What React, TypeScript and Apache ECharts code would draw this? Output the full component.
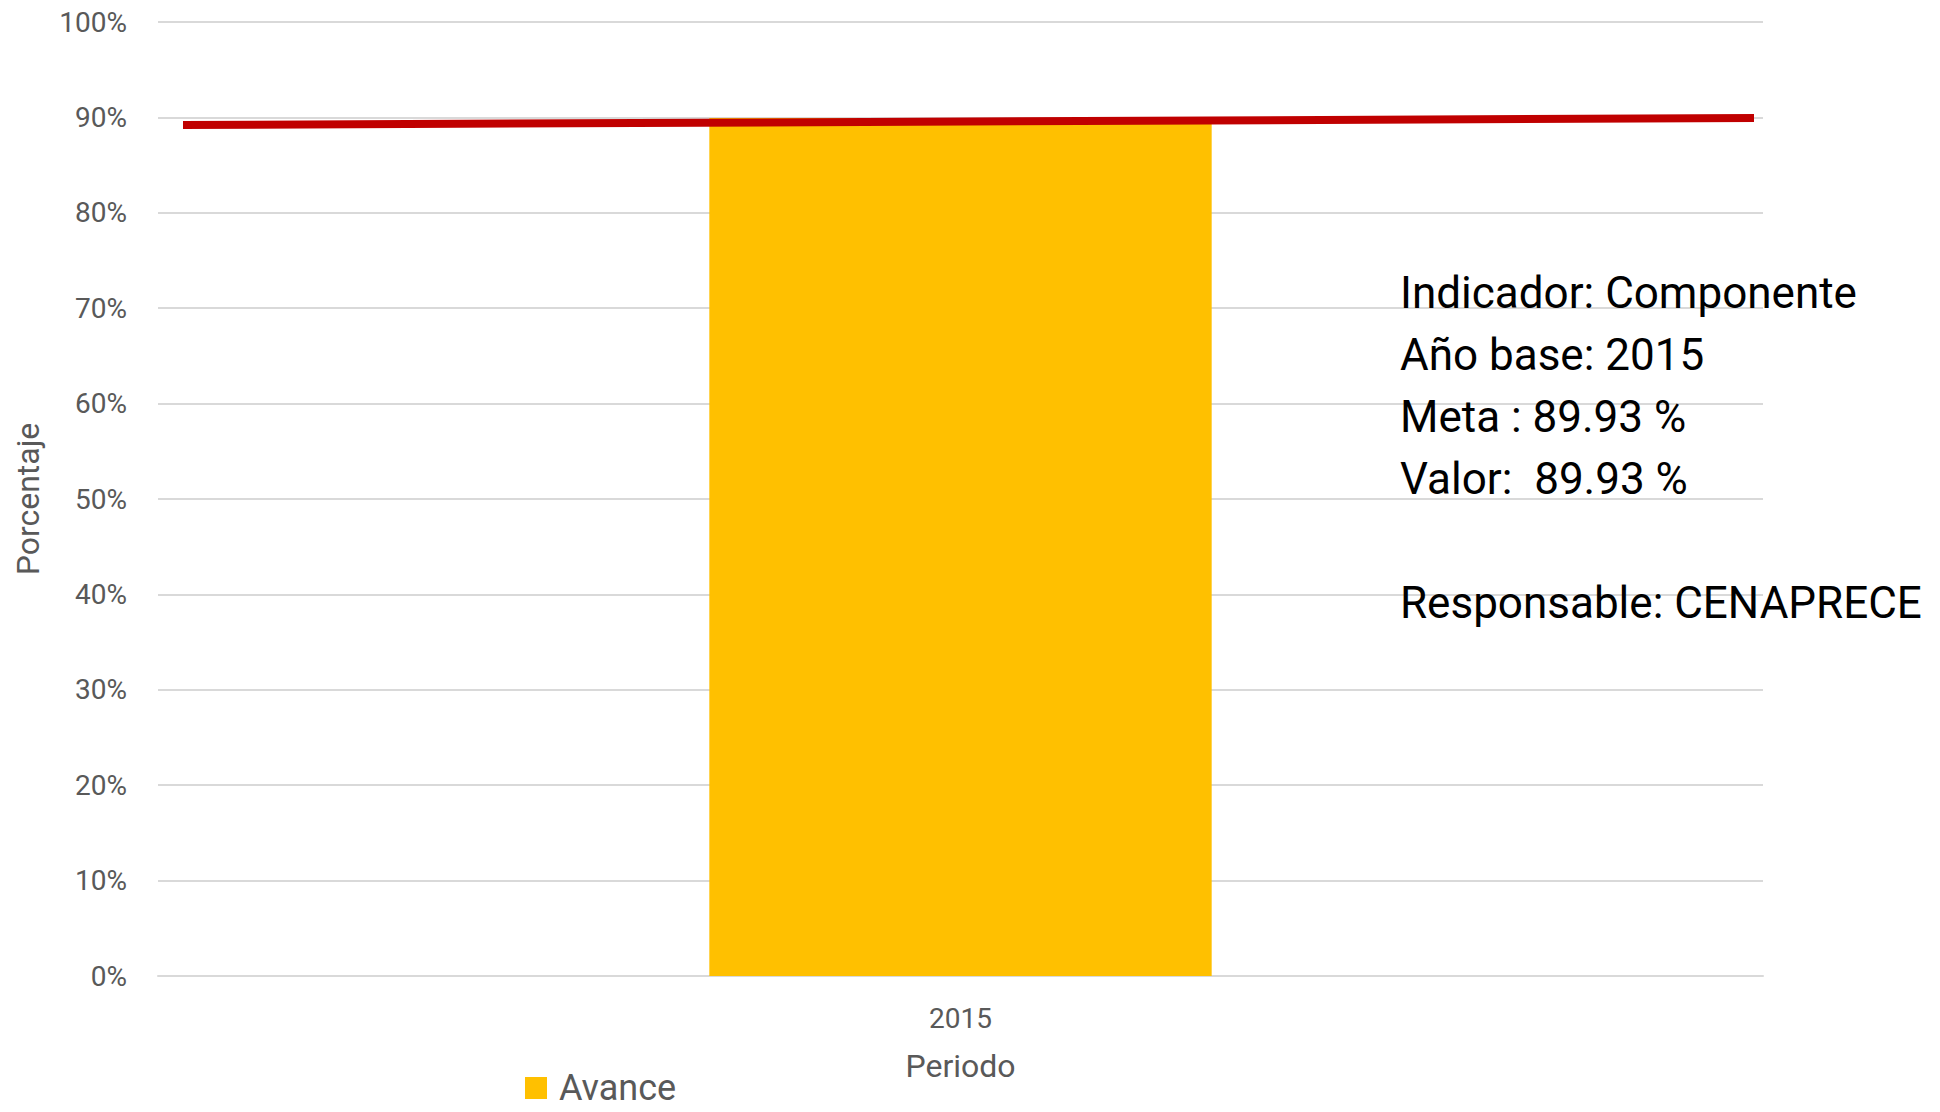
import React, { useEffect, useRef } from "react";
import * as echarts from "echarts";

const categories = ["2015"];
const avance = [89.93];
const metaLine = [89.2, 89.93];
const metaCats = ["inicio", "fin"];
const yTicks = [0, 10, 20, 30, 40, 50, 60, 70, 80, 90, 100];
const infoLines = [
  "Indicador: Componente",
  "Año base: 2015",
  "Meta : 89.93 %",
  "Valor:  89.93 %",
  "",
  "Responsable: CENAPRECE",
];

const FONT = "Roboto, 'Liberation Sans', sans-serif";
const GRAY = "#595959";

export default function App() {
  const ref = useRef<HTMLDivElement>(null);
  useEffect(() => {
    if (!ref.current) return;
    const chart = echarts.init(ref.current, undefined, { renderer: "svg" });
    chart.setOption({
      animation: false,
      backgroundColor: "#ffffff",
      textStyle: { fontFamily: FONT },
      grid: [
        { left: 158, right: 177, top: 22, bottom: 136 },
        { left: 183, right: 186, top: 22, bottom: 136 },
      ],
      legend: {
        data: ["Avance"],
        left: 525,
        top: 1070,
        padding: 0,
        itemWidth: 22,
        itemHeight: 22,
        icon: "rect",
        textStyle: {
          fontSize: 36,
          lineHeight: 36,
          color: GRAY,
          fontFamily: FONT,
          padding: [0, 0, 0, 7],
        },
      },
      xAxis: [
        {
          type: "category",
          gridIndex: 0,
          data: categories,
          axisLine: { lineStyle: { color: "#d9d9d9", width: 2 } },
          axisTick: { show: false },
          axisLabel: { fontSize: 28, color: GRAY, margin: 28, fontFamily: FONT },
          name: "Periodo",
          nameLocation: "middle",
          nameGap: 74,
          nameTextStyle: { fontSize: 32, color: GRAY, fontFamily: FONT },
        },
        {
          type: "category",
          gridIndex: 1,
          data: metaCats,
          boundaryGap: false,
          show: false,
        },
      ],
      yAxis: [
        {
          type: "value",
          gridIndex: 0,
          min: 0,
          max: 100,
          interval: 10,
          axisLine: { show: false },
          axisTick: { show: false },
          axisLabel: {
            fontSize: 28,
            color: GRAY,
            margin: 31,
            fontFamily: FONT,
            formatter: (v: number) => (yTicks.includes(v) ? v + "%" : ""),
          },
          splitLine: { lineStyle: { color: "#d9d9d9", width: 2 } },
          name: "Porcentaje",
          nameLocation: "middle",
          nameGap: 114,
          nameTextStyle: { fontSize: 32, color: GRAY, fontFamily: FONT },
        },
        {
          type: "value",
          gridIndex: 1,
          min: 0,
          max: 100,
          show: false,
        },
      ],
      series: [
        {
          name: "Avance",
          type: "bar",
          xAxisIndex: 0,
          yAxisIndex: 0,
          data: avance,
          barWidth: "31.3%",
          itemStyle: { color: "#FFC000" },
        },
        {
          name: "Meta",
          type: "line",
          xAxisIndex: 1,
          yAxisIndex: 1,
          data: metaLine,
          symbol: "none",
          lineStyle: { color: "#C00000", width: 8, cap: "butt" },
          z: 5,
        },
      ],
      graphic: [
        {
          type: "text",
          left: 1400,
          top: 262,
          z: 10,
          style: {
            text: infoLines.join("\n"),
            fontSize: 44,
            lineHeight: 62,
            fill: "#000000",
            fontFamily: FONT,
          },
        },
      ],
    });
    return () => chart.dispose();
  }, []);
  return (
    <div
      ref={ref}
      style={{ position: "absolute", left: 0, top: 0, width: 1940, height: 1112 }}
    />
  );
}
